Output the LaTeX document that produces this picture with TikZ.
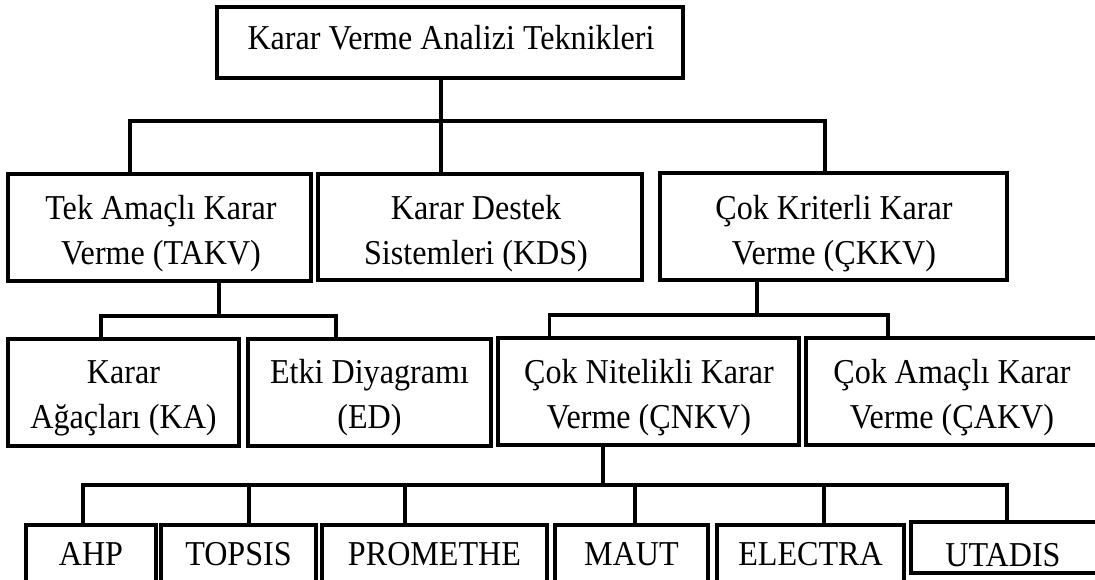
\documentclass[tikz,border=0pt]{standalone}
\usepackage{fontspec}
\setmainfont[FakeStretch=0.92]{Liberation Serif}
\begin{document}
\begin{tikzpicture}[x=1pt,y=-1pt,
  box/.style={draw, line width=3.2pt, inner sep=0pt},
  txt/.style={inner sep=0pt, align=center, font=\fontsize{34.9}{45}\selectfont},
  wire/.style={line width=3.2pt}]
\useasboundingbox (0,0) rectangle (1095,579);
\clip (0,0) rectangle (1095,579);

% root
\node[box, minimum width=466pt, minimum height=71pt] (top) at (450,42.5) {};
\node[txt] (top-t) at (451,38) {Karar Verme Analizi Teknikleri};

% second level
\node[box, minimum width=303pt, minimum height=107pt] (takv) at (159.5,227.5) {};
\node[txt] (takv-t) at (161,234) {Tek Amaçlı Karar\\Verme (TAKV)};
\node[box, minimum width=324pt, minimum height=106pt] (kds) at (480,227) {};
\node[txt] (kds-t) at (476,234) {Karar Destek\\Sistemleri (KDS)};
\node[box, minimum width=347pt, minimum height=107pt] (ckkv) at (833.5,226.5) {};
\node[txt] (ckkv-t) at (834,234) {Çok Kriterli Karar\\Verme (ÇKKV)};

% third level
\node[box, minimum width=231pt, minimum height=107pt] (ka) at (123.5,392.5) {};
\node[txt] (ka-t) at (123.5,398) {Karar\\Ağaçları (KA)};
\node[box, minimum width=243pt, minimum height=107pt] (ed) at (369.5,392.5) {};
\node[txt] (ed-t) at (369.5,398) {Etki Diyagramı\\(ED)};
\node[box, minimum width=301pt, minimum height=107pt] (cnkv) at (648.5,391.5) {};
\node[txt] (cnkv-t) at (649,398) {Çok Nitelikli Karar\\Verme (ÇNKV)};
\node[box, minimum width=292pt, minimum height=107pt] (cakv) at (952,391.5) {};
\node[txt] (cakv-t) at (952,398) {Çok Amaçlı Karar\\Verme (ÇAKV)};

% methods
\node[box, minimum width=130pt, minimum height=60pt] (ahp) at (91,555) {};
\node[txt] (ahp-t) at (91,554) {AHP};
\node[box, minimum width=155pt, minimum height=60pt] (topsis) at (238.5,555) {};
\node[txt] (topsis-t) at (238.5,554) {TOPSIS};
\node[box, minimum width=225pt, minimum height=60pt] (prom) at (434.5,555) {};
\node[txt] (prom-t) at (434.5,554) {PROMETHE};
\node[box, minimum width=153pt, minimum height=60pt] (maut) at (631.5,555) {};
\node[txt] (maut-t) at (631.5,554) {MAUT};
\node[box, minimum width=187pt, minimum height=60pt] (electra) at (810.5,555) {};
\node[txt] (electra-t) at (810.5,554) {ELECTRA};
\node[box, minimum width=186pt, minimum height=51pt] (utadis) at (1004,547.5) {};
\node[txt] (utadis-t) at (1003,555.5) {UTADIS};

% bus junctions
\coordinate (j1) at (441,121);
\coordinate (j2) at (219,316);
\coordinate (j3) at (757,315);
\coordinate (j4) at (603,485);

% root to second level
\draw[wire] ([xshift=-9pt]top.south) -- ([xshift=-39pt]kds.north);
\draw[wire] ([xshift=-29.5pt]takv.north) |- (j1) -| ([xshift=-8.5pt]ckkv.north);

% TAKV branch
\draw[wire] ([xshift=59.5pt]takv.south) -- (j2);
\draw[wire] ([xshift=-22.5pt]ka.north) |- (j2) -| ([xshift=-33.5pt]ed.north);

% ÇKKV branch
\draw[wire] ([xshift=-76.5pt]ckkv.south) -- (j3);
\draw[wire] ([xshift=-99pt]cnkv.north) |- (j3) -| ([xshift=-64pt]cakv.north);

% ÇNKV branch
\draw[wire] ([xshift=-45.5pt]cnkv.south) -- (j4);
\draw[wire] ([xshift=-8pt]ahp.north) |- (j4) -| ([xshift=3pt]utadis.north);
\draw[wire] ([xshift=10.5pt]topsis.north) -- ([xshift=10.5pt]topsis.north |- j4);
\draw[wire] ([xshift=-29.5pt]prom.north) -- ([xshift=-29.5pt]prom.north |- j4);
\draw[wire] ([xshift=3.5pt]maut.north) -- ([xshift=3.5pt]maut.north |- j4);
\draw[wire] ([xshift=13.5pt]electra.north) -- ([xshift=13.5pt]electra.north |- j4);
\end{tikzpicture}
\end{document}
